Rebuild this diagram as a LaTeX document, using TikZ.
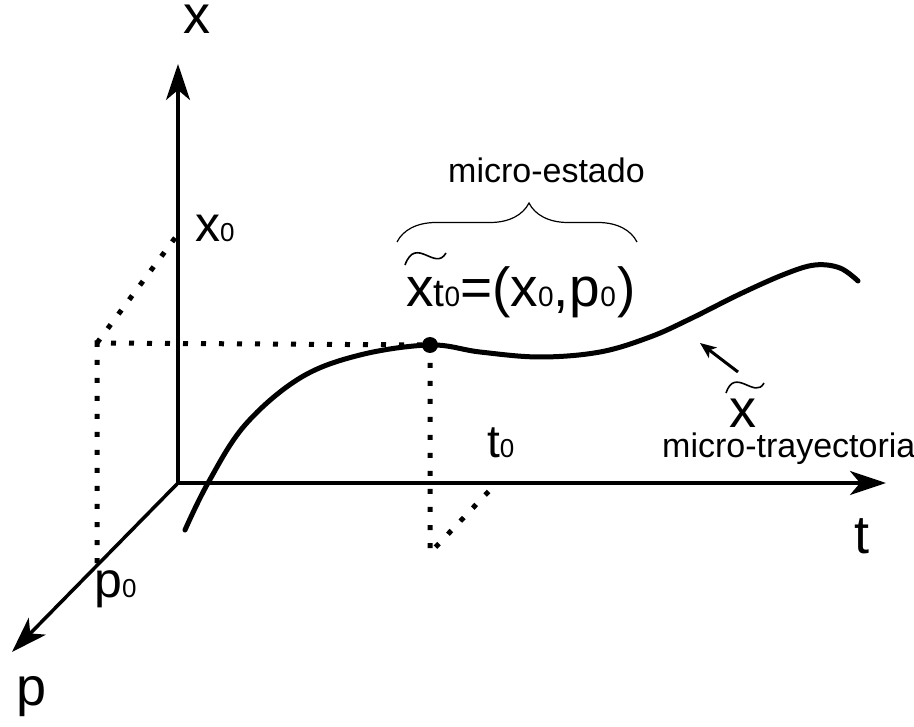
\documentclass[tikz,border=0pt]{standalone}
\usepackage{fontspec}
\setmainfont{Liberation Sans}
\usepackage{tikz}
\usetikzlibrary{arrows.meta,decorations.pathreplacing}
\newcommand{\zsub}[1]{{\fontsize{26}{26}\selectfont #1}}
\tikzset{
  axis/.style={line width=3.5pt, -{Stealth[length=36pt, width=24pt, inset=10pt]}},
  dots/.style={line width=5pt, dash pattern=on 5pt off 13pt},
  traj/.style={line width=5pt, line cap=round},
  ptr/.style={line width=3pt, -{Stealth[length=16pt, width=13pt, inset=4pt]}},
  brc/.style={line width=1.2pt, decorate, decoration={brace, amplitude=39pt, aspect=0.55}},
  tld/.style={line width=1.6pt},
  axl/.style={font=\fontsize{54}{54}\selectfont, anchor=base, inner sep=0pt},
  lbl/.style={font=\fontsize{50}{50}\selectfont, anchor=base west, inner sep=0pt},
  txt/.style={font=\fontsize{34}{34}\selectfont, anchor=base west, inner sep=0pt},
}

\begin{document}
\begin{tikzpicture}[x=1pt, y=-1pt]
  \useasboundingbox (0,0) rectangle (914,727);
  % axes
  \coordinate (O) at (178,483);
  \coordinate (xtip) at (178,64);
  \coordinate (ttip) at (886,483);
  \coordinate (ptip) at (12,652);
  \draw[axis] (O) -- (xtip);
  \draw[axis] (O) -- (ttip);
  \draw[axis] (O) -- (ptip);
  \node[axl, text height=28pt] (xl) at (197,34) {x};
  \node[axl] (tl) at (862,553) {t};
  \node[axl] (pl) at (32,705) {p};
  % projections of the micro-state
  \coordinate (x0) at (178,234);
  \coordinate (p0) at (97,563);
  \coordinate (c0) at (97,343);
  \coordinate (st) at (430,345);
  \coordinate (foot) at (430,553);
  \coordinate (t0) at (489,491);
  \draw[dots] (p0) -- (c0) -- (st);
  \draw[dots] (c0) -- (x0);
  \draw[dots] (st) -- (foot) -- (t0);
  \node[lbl] (x0l) at (195,242) {x\zsub{0}};
  \node[lbl] (p0l) at (94,597) {p\zsub{0}};
  \node[lbl, font=\fontsize{46}{46}\selectfont] (t0l) at (487,458) {t\zsub{0}};
  % trajectory
  \draw[traj] plot[smooth, tension=0.6] coordinates {(185,530) (208,483) (245,425)
    (300,378) (360,355) (430,345) (480,352) (540,357) (600,352) (650,337)
    (690,319) (740,294) (785,274) (815,265) (840,268) (858,281)};
  \fill (st) circle (8);
  % labels
  \node[lbl, font=\fontsize{55}{55}\selectfont] (state) at (406,307)
    {x{\fontsize{39}{39}\selectfont t}{\fontsize{28}{28}\selectfont 0}=(x{\fontsize{28}{28}\selectfont 0},\kern1pt p{\fontsize{28}{28}\selectfont 0}\kern1pt)};
  \coordinate (stL) at (405,265);
  \coordinate (stR) at (446,253);
  \draw[tld] (stL) .. controls +(11,-30) and +(-11,19) .. (stR);
  \coordinate (brL) at (397,242);
  \coordinate (brR) at (637,242);
  \draw[brc] (brL) -- (brR);
  \node[txt] (estado) at (448,183) {micro-estado};
  \node[lbl, font=\fontsize{54}{54}\selectfont, text depth=0pt] (xt) at (729,428) {x};
  \coordinate (xtL) at (726,393);
  \coordinate (xtR) at (764,383);
  \draw[tld] (xtL) .. controls +(9,-27) and +(-9,17) .. (xtR);
  \node[txt] (tray) at (662,457) {micro-trayectoria};
  \coordinate (ptrA) at (738,372);
  \coordinate (ptrB) at (700,343);
  \draw[ptr] (ptrA) -- (ptrB);
\end{tikzpicture}
\end{document}
